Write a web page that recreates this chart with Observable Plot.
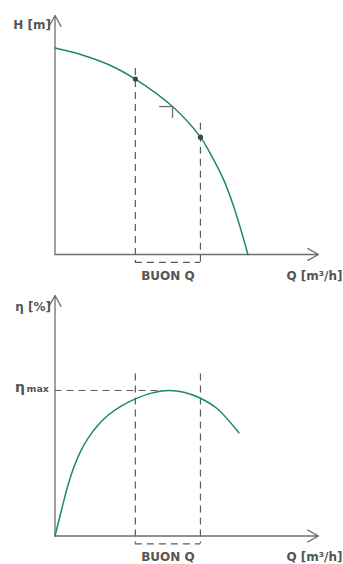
<!DOCTYPE html>
<html><head><meta charset="utf-8">
<script src="https://cdn.jsdelivr.net/npm/d3@7"></script>
<script src="https://cdn.jsdelivr.net/npm/@observablehq/plot@0.6"></script>
<style>
body{margin:0;background:#fff}
#c svg{display:block}
</style>
</head><body><div id="c"></div>
<script>
// ---- data (arbitrary units) ----
const hqQ = [0, 1.09, 2.11, 3.05, 4.46, 5.52, 5.90, 6.41, 6.79, 7.10, 7.32];
const hqH = [8.64, 8.33, 7.91, 7.34, 6.19, 4.91, 4.21, 3.10, 1.98, 0.87, 0];
const etaQ = [0, 0.24, 0.49, 0.74, 0.99, 1.24, 1.62, 2.00, 2.51, 3.05, 3.62, 4.32, 4.89, 5.50, 6.16, 6.98];
const etaV = [0, 1.05, 2.10, 2.93, 3.56, 4.04, 4.59, 5.01, 5.40, 5.70, 5.93, 6.05, 5.98, 5.74, 5.29, 4.29];
const goodQ = [3.05, 5.52];        // "BUON Q" range
const dutyH = [7.34, 4.91];        // H at the range limits
const guideTopH = [7.78, 5.49];    // top of dashed guides, H chart
const guideTopEta = 6.74;          // top of dashed guides, eta chart
const guideBottom = -0.33;         // bottom of the dashed bracket
const bepQ = 4.46, bepH = 6.19;    // best efficiency point marker
const bepArmQ = 3.97, bepArmH = 5.69;
const etaMaxQ = 4.32, etaMax = 6.05;
const axisMax = 10;
const labelsTop = {y: "H [m]", x: "Q [m³/h]", range: "BUON Q"};
const labelsBot = {y: "η [%]", x: "Q [m³/h]", range: "BUON Q", max: "η", maxSub: "max"};

const green = "#1f8a5e", axisC = "#6e6e6e", dashC = "#5c5c5c", textC = "#555";
const font = "'DejaVu Sans', sans-serif";
const W = 343;

const hq = hqQ.map((q, i) => ({q, h: hqH[i]}));
const eta = etaQ.map((q, i) => ({q, e: etaV[i]}));

function axes() {
  return [
    Plot.arrow([{x1: 0, y1: 0, x2: axisMax, y2: 0}], {x1: "x1", y1: "y1", x2: "x2", y2: "y2", stroke: axisC, strokeWidth: 1.3, headAngle: 58, headLength: 14}),
    Plot.arrow([{x1: 0, y1: 0, x2: 0, y2: axisMax}], {x1: "x1", y1: "y1", x2: "x2", y2: "y2", stroke: axisC, strokeWidth: 1.3, headAngle: 58, headLength: 14})
  ];
}
const txt = {fontFamily: font, fontWeight: "bold", fontSize: 12, fill: textC};

// ---- top chart: H vs Q ----
const chartH = Plot.plot({
  width: W, height: 285,
  marginLeft: 54.5, marginRight: 25, marginTop: 15, marginBottom: 31,
  x: {domain: [0, axisMax], axis: null},
  y: {domain: [0, axisMax], axis: null},
  marks: [
    Plot.ruleX(goodQ, {x: d => d, y1: (d, i) => guideTopH[i], y2: guideBottom, stroke: dashC, strokeWidth: 1.2, strokeDasharray: "7,5"}),
    Plot.ruleY([guideBottom], {x1: goodQ[0], x2: goodQ[1], stroke: dashC, strokeWidth: 1.2, strokeDasharray: "7,5"}),
    ...axes(),
    Plot.line(hq, {x: "q", y: "h", stroke: green, strokeWidth: 1.5, curve: "catmull-rom"}),
    Plot.ruleY([bepH], {x1: bepArmQ, x2: bepQ, stroke: axisC, strokeWidth: 1.3}),
    Plot.ruleX([bepQ], {y1: bepArmH, y2: bepH, stroke: axisC, strokeWidth: 1.3}),
    Plot.dot(goodQ, {x: d => d, y: (d, i) => dutyH[i], r: 2.6, fill: "#444", stroke: null}),
    Plot.text([labelsTop.y], {x: 0, y: axisMax, text: d => d, textAnchor: "end", dx: -4, dy: 10, ...txt}),
    Plot.text([labelsTop.range], {x: (goodQ[0] + goodQ[1]) / 2, y: 0, text: d => d, dy: 22, ...txt}),
    Plot.text([labelsTop.x], {x: axisMax, y: 0, text: d => d, textAnchor: "end", dx: 24, dy: 22, ...txt})
  ]
});

// ---- bottom chart: efficiency vs Q ----
const chartEta = Plot.plot({
  width: W, height: 279,
  marginLeft: 54.5, marginRight: 25, marginTop: 10, marginBottom: 28.5,
  x: {domain: [0, axisMax], axis: null},
  y: {domain: [0, axisMax], axis: null},
  marks: [
    Plot.ruleX(goodQ, {x: d => d, y1: guideTopEta, y2: guideBottom, stroke: dashC, strokeWidth: 1.2, strokeDasharray: "7,5"}),
    Plot.ruleY([guideBottom], {x1: goodQ[0], x2: goodQ[1], stroke: dashC, strokeWidth: 1.2, strokeDasharray: "7,5"}),
    Plot.ruleY([etaMax], {x1: 0, x2: etaMaxQ, stroke: dashC, strokeWidth: 1.2, strokeDasharray: "7,5"}),
    ...axes(),
    Plot.line(eta, {x: "q", y: "e", stroke: green, strokeWidth: 1.5, curve: "catmull-rom"}),
    Plot.text([labelsBot.y], {x: 0, y: axisMax, text: d => d, textAnchor: "end", dx: -4, dy: 12, ...txt}),
    Plot.text([labelsBot.max], {x: 0, y: etaMax, text: d => d, textAnchor: "end", dx: -30, dy: -3, ...txt, fontSize: 14}),
    Plot.text([labelsBot.maxSub], {x: 0, y: etaMax, text: d => d, textAnchor: "end", dx: -6, dy: -1.5, ...txt, fontSize: 9.5}),
    Plot.text([labelsBot.range], {x: (goodQ[0] + goodQ[1]) / 2, y: 0, text: d => d, dy: 21, ...txt}),
    Plot.text([labelsBot.x], {x: axisMax, y: 0, text: d => d, textAnchor: "end", dx: 24, dy: 21, ...txt})
  ]
});

document.getElementById("c").append(chartH, chartEta);
</script>
</body></html>
